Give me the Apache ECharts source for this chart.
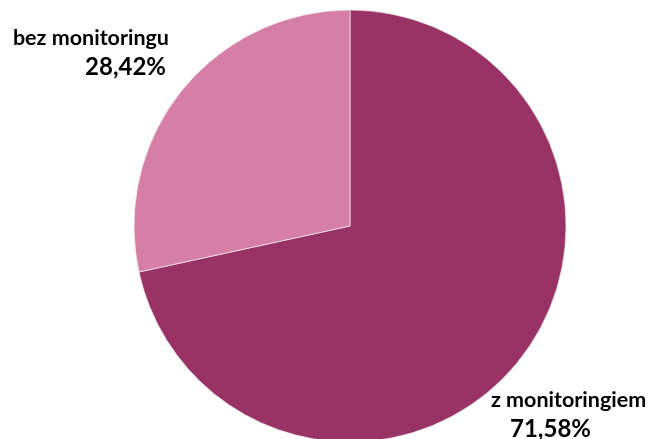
<!DOCTYPE html>
<html>
<head>
<meta charset="utf-8">
<script src="https://cdn.jsdelivr.net/npm/echarts@6/dist/echarts.min.js"></script>
<style>
html,body{margin:0;padding:0;background:#fff;}
#main{width:654px;height:439px;}
</style>
</head>
<body>
<div id="main"></div>
<script>
var categories = ['z monitoringiem', 'bez monitoringu'];
var values = [71.58, 28.42];
var colors = ['#993366', '#d57fa7'];

var chart = echarts.init(document.getElementById('main'), null, {renderer: 'canvas'});

function fmt(v) { return v.toFixed(2).replace('.', ',') + '%'; }

var labelPos = [
  {x: 491, y: 387, align: 'left', vPad: [0, 0, 0, 19]},
  {x: 169, y: 25, align: 'right', vPad: [0, 3, 0, 0]}
];

var data = categories.map(function (c, i) {
  return {
    name: c,
    value: values[i],
    itemStyle: {color: colors[i]},
    label: {
      align: labelPos[i].align,
      rich: {
        n: {fontFamily: 'Lato', fontWeight: 'bold', fontSize: 21.5, color: '#000', lineHeight: 27, align: labelPos[i].align},
        v: {fontFamily: 'Lato', fontWeight: 'bold', fontSize: 24, color: '#000', lineHeight: 31, align: labelPos[i].align, padding: labelPos[i].vPad}
      }
    }
  };
});

chart.setOption({
  animation: false,
  backgroundColor: '#fff',
  series: [{
    type: 'pie',
    center: [350, 226],
    radius: [0, 216],
    startAngle: 90,
    clockwise: true,
    data: data,
    itemStyle: {borderColor: '#ffffff', borderWidth: 0.6},
    label: {
      show: true,
      position: 'outside',
      overflow: 'none',
      edgeDistance: 0,
      formatter: function (p) { return '{n|' + p.name + '}\n{v|' + fmt(p.value) + '}'; }
    },
    labelLine: {show: false},
    labelLayout: function (p) {
      var l = labelPos[p.dataIndex];
      return {x: l.x, y: l.y, align: l.align, verticalAlign: 'top'};
    },
    emphasis: {disabled: true}
  }]
});
</script>
</body>
</html>
